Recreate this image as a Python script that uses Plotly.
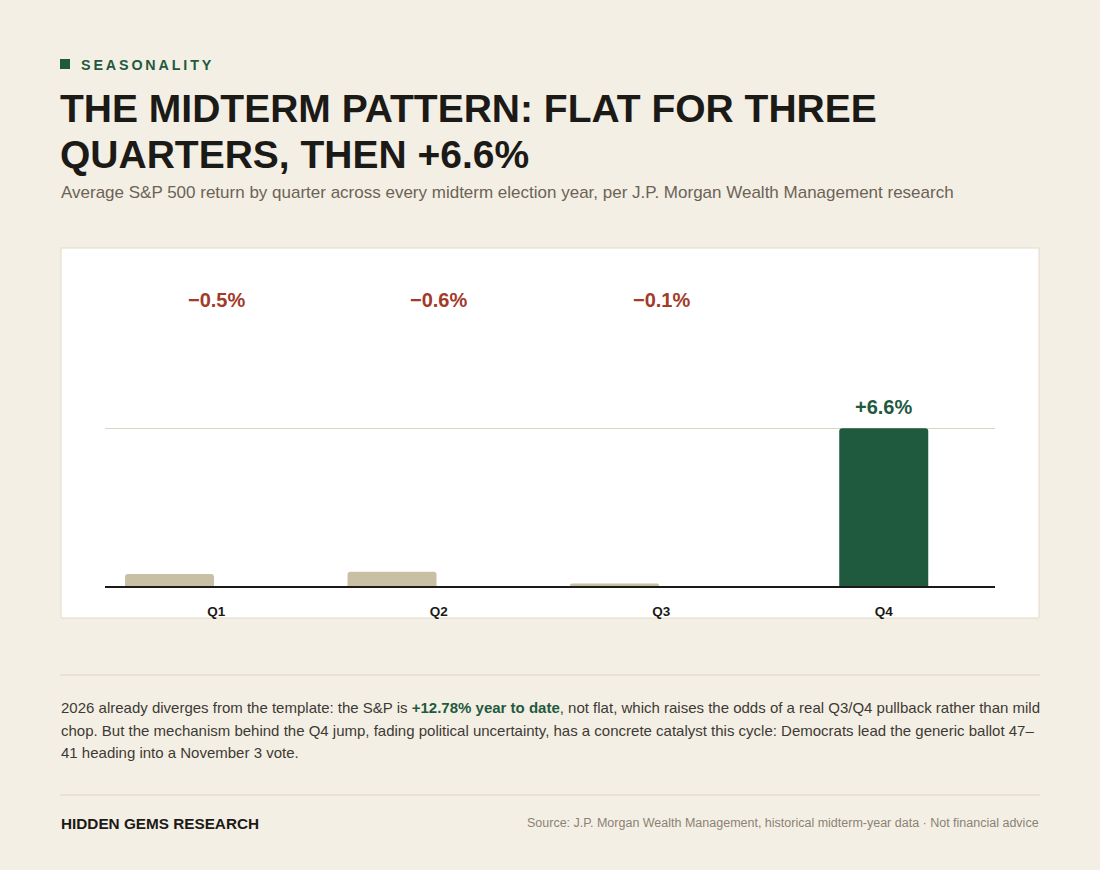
import plotly.graph_objects as go

# data
quarters = ["Q1", "Q2", "Q3", "Q4"]
avg_return = [-0.5, -0.6, -0.1, 6.6]
value_labels = ["−0.5%", "−0.6%", "−0.1%", "+6.6%"]

W, H = 1100, 870
BG = "#f4efe4"
GREEN = "#1f5a3f"
BEIGE = "#c9bfa5"
RED = "#a23b2a"
DARK = "#1c1a17"
FONT = "Liberation Sans, Arial, sans-serif"


def px(x):
    return x / W


def py(y):
    return 1 - y / H


bar_heights = [abs(v) for v in avg_return]
bar_colors = [GREEN if v > 0 else BEIGE for v in avg_return]
bar_offsets = [-0.2 if v > 0 else -0.41 for v in avg_return]

fig = go.Figure()
fig.add_trace(go.Bar(
    x=quarters, y=bar_heights,
    marker=dict(color=bar_colors, cornerradius=3, line=dict(width=0)),
    width=0.4, offset=bar_offsets,
    hoverinfo="skip", showlegend=False,
))

annotations = []
for q, v, lab in zip(quarters, avg_return, value_labels):
    if v > 0:
        annotations.append(dict(x=q, y=v, xref="x", yref="y", text="<b>" + lab + "</b>",
                                showarrow=False, yanchor="bottom", yshift=8,
                                font=dict(size=20, color=GREEN, family=FONT)))
    else:
        annotations.append(dict(x=q, y=11.95, xref="x", yref="y", text="<b>" + lab + "</b>",
                                showarrow=False, yanchor="middle",
                                font=dict(size=20, color=RED, family=FONT)))


def note(x, y, text, size, color, xanchor="left", yanchor="middle"):
    annotations.append(dict(x=px(x), y=py(y), xref="paper", yref="paper", text=text,
                            showarrow=False, xanchor=xanchor, yanchor=yanchor,
                            font=dict(size=size, color=color, family=FONT)))


kicker = "\u2009".join("SEASONALITY")
note(79, 65, "<b>" + kicker + "</b>", 14.3, GREEN)
note(58, 109, "<b>THE MIDTERM PATTERN: FLAT FOR THREE</b>", 39, DARK)
note(58, 154, "<b>QUARTERS, THEN +6.6%</b>", 39, DARK)
note(59, 192, "Average S&P 500 return by quarter across every midterm election year, "
              "per J.P. Morgan Wealth Management research", 17, "#6b6357")

body = "#3d3a35"
note(59, 707, "2026 already diverges from the template: the S&P is "
              "<b><span style='color:" + GREEN + "'>+12.78% year to date</span></b>, not flat, "
              "which raises the odds of a real Q3/Q4 pullback rather than mild", 15, body)
note(59, 730, "chop. But the mechanism behind the Q4 jump, fading political uncertainty, "
              "has a concrete catalyst this cycle: Democrats lead the generic ballot 47–", 15, body)
note(59, 752, "41 heading into a November 3 vote.", 15, body)

note(59, 823, "<b>HIDDEN GEMS RESEARCH</b>", 15.3, DARK)
note(1041, 823, "Source: J.P. Morgan Wealth Management, historical midterm-year data · "
                "Not financial advice", 12.5, "#8a8274", xanchor="right")

shapes = [
    # card behind the chart
    dict(type="rect", xref="paper", yref="paper", layer="below",
         x0=px(61), x1=px(1039), y0=py(618), y1=py(248),
         fillcolor="white", line=dict(color="#e2dac8", width=1)),
    # kicker square
    dict(type="rect", xref="paper", yref="paper",
         x0=px(60), x1=px(70), y0=py(69), y1=py(59),
         fillcolor=GREEN, line=dict(width=0)),
    # dividers
    dict(type="line", xref="paper", yref="paper",
         x0=px(60), x1=px(1040), y0=py(675), y1=py(675),
         line=dict(color="#ddd5c3", width=1)),
    dict(type="line", xref="paper", yref="paper",
         x0=px(60), x1=px(1040), y0=py(795), y1=py(795),
         line=dict(color="#ddd5c3", width=1)),
]

fig.update_layout(
    width=W, height=H,
    margin=dict(l=0, r=0, t=0, b=0),
    paper_bgcolor=BG, plot_bgcolor="rgba(0,0,0,0)",
    font=dict(family=FONT, color=DARK),
    bargap=0.6,
    annotations=annotations,
    shapes=shapes,
    xaxis=dict(domain=[px(105), px(995)], showline=True, linecolor=DARK, linewidth=2,
               showgrid=False, ticks="", ticklabelstandoff=12,
               tickfont=dict(size=13.5, color=DARK, family=FONT, weight="bold"),
               fixedrange=True),
    yaxis=dict(domain=[py(586), py(268)], range=[0, 13.3], tickvals=[6.6],
               showticklabels=False, showgrid=True, gridcolor="#d9d4c7", gridwidth=1,
               zeroline=False, fixedrange=True),
)

# page margin off so the figure fills the window
fig.write_html("out.html", config={"displayModeBar": False},
               post_script="document.body.style.margin='0';document.body.style.overflow='hidden';")
